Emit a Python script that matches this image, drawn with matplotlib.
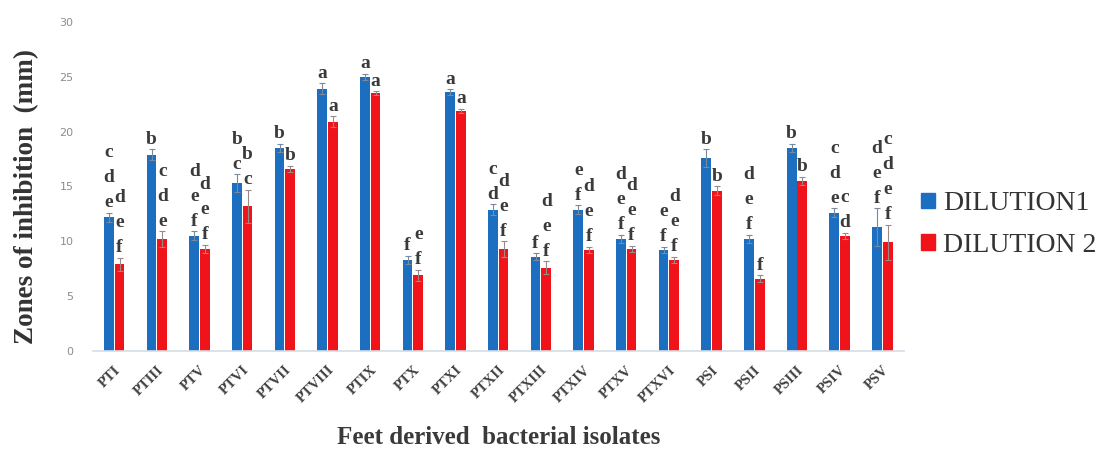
import numpy as np
import matplotlib
matplotlib.use("Agg")
import matplotlib.pyplot as plt
from matplotlib.patches import Patch

isolates = ["PTI", "PTIII", "PTV", "PTVI", "PTVII", "PTVIII", "PTIX", "PTX", "PTXI",
            "PTXII", "PTXIII", "PTXIV", "PTXV", "PTXVI", "PSI", "PSII", "PSIII", "PSIV", "PSV"]

dilution1 = [12.2, 17.9, 10.5, 15.3, 18.5, 23.9, 25.0, 8.3, 23.6,
             12.9, 8.6, 12.9, 10.2, 9.2, 17.6, 10.2, 18.5, 12.6, 11.3]
dilution2 = [7.9, 10.2, 9.3, 13.2, 16.6, 20.9, 23.5, 6.9, 21.9,
             9.3, 7.6, 9.2, 9.3, 8.3, 14.6, 6.6, 15.5, 10.5, 9.9]

err1 = [0.4, 0.5, 0.4, 0.8, 0.4, 0.5, 0.3, 0.4, 0.3,
        0.5, 0.3, 0.4, 0.4, 0.3, 0.8, 0.4, 0.4, 0.4, 1.7]
err2 = [0.6, 0.7, 0.4, 1.5, 0.3, 0.5, 0.2, 0.5, 0.2,
        0.7, 0.6, 0.3, 0.3, 0.3, 0.4, 0.3, 0.4, 0.3, 1.6]

# significance letters, top to bottom
letters1 = ["cde", "b", "def", "bc", "b", "a", "a", "f", "a",
            "cd", "f", "ef", "def", "ef", "b", "def", "b", "cde", "def"]
letters2 = ["def", "cde", "def", "bc", "b", "a", "a", "ef", "a",
            "def", "def", "def", "def", "def", "b", "f", "b", "cd", "cdef"]

blue = "#1c6fc0"
red = "#f0141a"

fig = plt.figure(figsize=(11.06, 4.54), dpi=100)
ax = fig.add_axes([0.084, 0.227, 0.733, 0.7245])

x = np.arange(len(isolates))
w = 0.23
ax.bar(x - w / 2 - 0.01, dilution1, w, color=blue,
       yerr=err1, ecolor="#7a8a9a", capsize=2.5, error_kw=dict(elinewidth=0.8, capthick=0.8))
ax.bar(x + w / 2 + 0.01, dilution2, w, color=red,
       yerr=err2, ecolor="#9a8a8a", capsize=2.5, error_kw=dict(elinewidth=0.8, capthick=0.8))

serif = "Liberation Serif"
for xs, vals, errs, labs in [(x - w / 2 - 0.01, dilution1, err1, letters1),
                             (x + w / 2 + 0.01, dilution2, err2, letters2)]:
    for xi, v, e, lab in zip(xs, vals, errs, labs):
        for k, ch in enumerate(lab[::-1]):
            ax.annotate(ch, (xi, v + e), xytext=(0, 1 + 18 * k), textcoords="offset points",
                        ha="center", va="bottom", fontsize=14, family=serif,
                        fontweight="bold", color="#3a3a3a", annotation_clip=False)

ax.set_xlim(-0.5, len(isolates) - 0.5)
ax.set_ylim(0, 30)
ax.set_yticks(range(0, 31, 5))
ax.tick_params(axis="y", length=0, labelsize=8, labelcolor="#8c8c8c", pad=14)
ax.tick_params(axis="x", length=0, pad=9)
ax.set_xticks(x)
ax.set_xticklabels(isolates, rotation=45, ha="right", rotation_mode="anchor",
                   family=serif, fontweight="bold", fontsize=10.5, color="#404040")
for s in ["top", "right", "left"]:
    ax.spines[s].set_visible(False)
ax.spines["bottom"].set_color("#d6dde6")
ax.spines["bottom"].set_linewidth(1.2)

ax.set_ylabel("Zones of inhibition  (mm)", family=serif, fontweight="bold",
              fontsize=19.5, color="#333333")
ax.yaxis.set_label_coords(-0.066, 0.47)
ax.set_xlabel("Feet derived  bacterial isolates", family=serif, fontweight="bold",
              fontsize=18, color="#3a3a3a", labelpad=15)

handles = [Patch(color=blue, label="DILUTION1"), Patch(color=red, label="DILUTION 2")]
fig.legend(handles=handles, loc="center left", bbox_to_anchor=(0.81, 0.505),
           frameon=False, prop=dict(family=serif, size=20), handlelength=0.5,
           handleheight=0.5, handletextpad=0.3, labelspacing=0.6, labelcolor="#333333")

fig.savefig("out.png", dpi=100)
